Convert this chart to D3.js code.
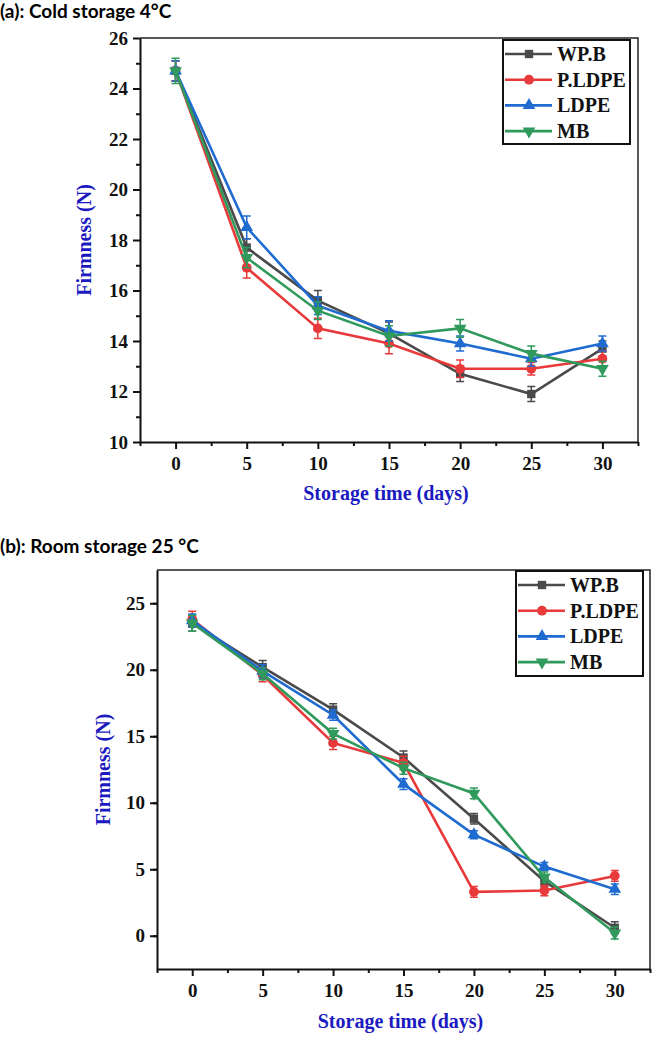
<!DOCTYPE html>
<html>
<head>
<meta charset="utf-8">
<script src="https://cdn.jsdelivr.net/npm/d3@7"></script>
<style>
	body {margin:0; background:#fff;}
	svg {display:block;}
</style>
</head>
<body>
<div id="chart"></div>
<script>
//Data
var days = [0, 5, 10, 15, 20, 25, 30];
var seriesNames = ["WP.B", "P.LDPE", "LDPE", "MB"];
var seriesColors = ["#4a4a4a", "#e8393b", "#1f6bd0", "#2f9a5c"];
var seriesSymbols = [d3.symbolSquare, d3.symbolCircle, d3.symbolTriangle, d3.symbolTriangle];

//(a) cold storage 4°C
var coldWPB    = [24.7, 17.7, 15.6, 14.3, 12.7, 11.9, 13.7];
var coldPLDPE  = [24.7, 16.9, 14.5, 13.9, 12.9, 12.9, 13.3];
var coldLDPE   = [24.7, 18.5, 15.4, 14.4, 13.9, 13.3, 13.9];
var coldMB     = [24.7, 17.3, 15.2, 14.2, 14.5, 13.5, 12.9];
var coldErrWPB   = [0.4, 0.35, 0.4, 0.45, 0.3, 0.3, 0.3];
var coldErrPLDPE = [0.4, 0.4, 0.4, 0.4, 0.35, 0.25, 0.3];
var coldErrLDPE  = [0.4, 0.45, 0.35, 0.4, 0.3, 0.3, 0.3];
var coldErrMB    = [0.5, 0.4, 0.35, 0.4, 0.35, 0.3, 0.3];
var coldYTicks = [10, 12, 14, 16, 18, 20, 22, 24, 26];

//(b) room storage 25 °C
var roomWPB    = [23.5, 20.2, 17.0, 13.4, 8.8, 4.1, 0.6];
var roomPLDPE  = [23.8, 19.6, 14.5, 13.0, 3.3, 3.4, 4.5];
var roomLDPE   = [23.7, 19.9, 16.6, 11.4, 7.6, 5.2, 3.5];
var roomMB     = [23.5, 19.7, 15.2, 12.6, 10.7, 4.4, 0.2];
var roomErrWPB   = [0.6, 0.5, 0.45, 0.5, 0.4, 0.4, 0.45];
var roomErrPLDPE = [0.6, 0.5, 0.5, 0.5, 0.4, 0.4, 0.4];
var roomErrLDPE  = [0.5, 0.5, 0.4, 0.4, 0.3, 0.3, 0.4];
var roomErrMB    = [0.6, 0.45, 0.4, 0.45, 0.4, 0.4, 0.45];
var roomYTicks = [0, 5, 10, 15, 20, 25];

var xTicks = [0, 5, 10, 15, 20, 25, 30];

var SERIF = '"Liberation Serif", "Times New Roman", serif';

var svg = d3.select('#chart').append('svg')
	.attr('width', 664)
	.attr('height', 1039);

/**
 * Draw one panel. box is the plot area in page pixels.
 */
function drawPanel(cfg) {
	var box = cfg.box;
	var x = d3.scaleLinear().domain([-2.5, 32.5]).range([box.left, box.right]);
	var y = d3.scaleLinear().domain(cfg.yDomain).range([box.bottom, box.top]);
	var g = svg.append('g');

	//Panel title
	svg.append('text')
		.attr('x', 0)
		.attr('y', cfg.titleY)
		.style('font-family', 'Lato, "Open Sans", sans-serif')
		.style('font-weight', 'bold')
		.style('font-size', '19px')
		.attr('fill', '#000')
		.text(cfg.title);

	//Top and right frame
	g.append('path')
		.attr('d', 'M' + box.left + ',' + box.top + 'H' + box.right + 'V' + box.bottom)
		.attr('fill', 'none')
		.attr('stroke', '#222')
		.attr('stroke-width', 1.5);

	//Minor ticks
	var xMinor = d3.range(-2.5, 33, 5);
	g.append('g')
		.attr('transform', 'translate(0,' + box.bottom + ')')
		.call(d3.axisBottom(x).tickValues(xMinor).tickSize(4).tickFormat(''))
		.call(function(s){s.select('.domain').remove();})
		.selectAll('line').attr('stroke', '#111').attr('stroke-width', 2);
	var yMinor = d3.range(cfg.yDomain[0] + cfg.yStep/2, cfg.yDomain[1] + 0.01, cfg.yStep);
	g.append('g')
		.attr('transform', 'translate(' + box.left + ',0)')
		.call(d3.axisLeft(y).tickValues(yMinor).tickSize(4).tickFormat(''))
		.call(function(s){s.select('.domain').remove();})
		.selectAll('line').attr('stroke', '#111').attr('stroke-width', 2);

	//Major axes
	var xAxis = g.append('g')
		.attr('transform', 'translate(0,' + box.bottom + ')')
		.call(d3.axisBottom(x).tickValues(xTicks).tickSize(7).tickSizeOuter(0).tickPadding(8));
	var yAxis = g.append('g')
		.attr('transform', 'translate(' + box.left + ',0)')
		.call(d3.axisLeft(y).tickValues(cfg.yTicks).tickSize(7).tickSizeOuter(0).tickPadding(5));
	[xAxis, yAxis].forEach(function(a) {
		a.attr('font-family', null).attr('font-size', null);
		a.select('.domain').attr('stroke', '#111').attr('stroke-width', 2);
		a.selectAll('.tick line').attr('stroke', '#111').attr('stroke-width', 2);
		a.selectAll('.tick text')
			.style('font-family', SERIF)
			.style('font-weight', 'bold')
			.style('font-size', '19px')
			.attr('fill', '#111');
	});

	//Axis titles
	svg.append('text')
		.style('font-family', SERIF)
		.style('font-weight', 'bold')
		.style('font-size', '20px')
		.attr('fill', '#1a1ac0')
		.attr('text-anchor', 'middle')
		.attr('x', (box.left + box.right)/2 - 3)
		.attr('y', cfg.xTitleY)
		.text('Storage time (days)');
	svg.append('text')
		.style('font-family', SERIF)
		.style('font-weight', 'bold')
		.style('font-size', '20px')
		.attr('fill', '#1a1ac0')
		.attr('text-anchor', 'middle')
		.attr('transform', 'translate(' + cfg.yTitleX + ',' + ((box.top + box.bottom)/2) + ') rotate(-90)')
		.text('Firmness (N)');

	//Series
	var line = d3.line()
		.x(function(d){return x(d.day);})
		.y(function(d){return y(d.v);});
	cfg.values.forEach(function(vals, i) {
		var pts = days.map(function(d, j){return {day: d, v: vals[j], e: cfg.errors[i][j]};});
		var color = seriesColors[i];
		var sg = g.append('g');
		sg.append('path')
			.datum(pts)
			.attr('d', line)
			.attr('fill', 'none')
			.attr('stroke', color)
			.attr('stroke-width', 2.6);
		//Error bars
		sg.selectAll('path.err').data(pts).enter().append('path')
			.attr('class', 'err')
			.attr('d', function(d) {
				var cx = x(d.day), y0 = y(d.v - d.e), y1 = y(d.v + d.e);
				return 'M' + cx + ',' + y0 + 'V' + y1 +
					'M' + (cx-4) + ',' + y0 + 'H' + (cx+4) +
					'M' + (cx-4) + ',' + y1 + 'H' + (cx+4);
			})
			.attr('fill', 'none')
			.attr('stroke', color)
			.attr('stroke-width', 1.5);
		//Markers
		sg.selectAll('path.marker').data(pts).enter().append('path')
			.attr('class', 'marker')
			.attr('d', d3.symbol().type(seriesSymbols[i]).size(i == 1 ? 75 : 70))
			.attr('fill', color)
			.attr('transform', function(d) {
				return 'translate(' + x(d.day) + ',' + y(d.v) + ')' + (i == 3 ? ' rotate(180)' : '');
			});
	});

	//Legend
	var lg = svg.append('g');
	var lb = cfg.legend;
	lg.append('rect')
		.attr('x', lb.left).attr('y', lb.top)
		.attr('width', lb.width).attr('height', lb.height)
		.attr('fill', '#fff')
		.attr('stroke', '#111')
		.attr('stroke-width', 2);
	seriesNames.forEach(function(name, i) {
		var ry = lb.top + 14 + i*25.7;
		var row = lg.append('g');
		row.append('line')
			.attr('x1', lb.left + 2).attr('x2', lb.left + 49)
			.attr('y1', ry).attr('y2', ry)
			.attr('stroke', seriesColors[i])
			.attr('stroke-width', 2.6);
		row.append('path')
			.attr('d', d3.symbol().type(seriesSymbols[i]).size(i == 1 ? 75 : 70))
			.attr('fill', seriesColors[i])
			.attr('transform', 'translate(' + (lb.left + 26) + ',' + ry + ')' + (i == 3 ? ' rotate(180)' : ''));
		row.append('text')
			.attr('x', lb.left + 54)
			.attr('y', ry)
			.attr('dy', '0.35em')
			.style('font-family', SERIF)
			.style('font-weight', 'bold')
			.style('font-size', '20px')
			.attr('fill', '#111')
			.text(name);
	});
}

drawPanel({
	title: '(a): Cold storage 4°C',
	titleY: 18,
	box: {left: 140, right: 638, top: 38, bottom: 442},
	yDomain: [10, 26],
	yStep: 2,
	yTicks: coldYTicks,
	values: [coldWPB, coldPLDPE, coldLDPE, coldMB],
	errors: [coldErrWPB, coldErrPLDPE, coldErrLDPE, coldErrMB],
	xTitleY: 500,
	yTitleX: 91,
	legend: {left: 503, top: 40, width: 127, height: 104}
});

drawPanel({
	title: '(b): Room storage 25 °C',
	titleY: 553,
	box: {left: 157, right: 650, top: 570, bottom: 969},
	yDomain: [-2.5, 27.5],
	yStep: 5,
	yTicks: roomYTicks,
	values: [roomWPB, roomPLDPE, roomLDPE, roomMB],
	errors: [roomErrWPB, roomErrPLDPE, roomErrLDPE, roomErrMB],
	xTitleY: 1028,
	yTitleX: 110,
	legend: {left: 516, top: 571, width: 127, height: 105}
});
</script>
</body>
</html>
